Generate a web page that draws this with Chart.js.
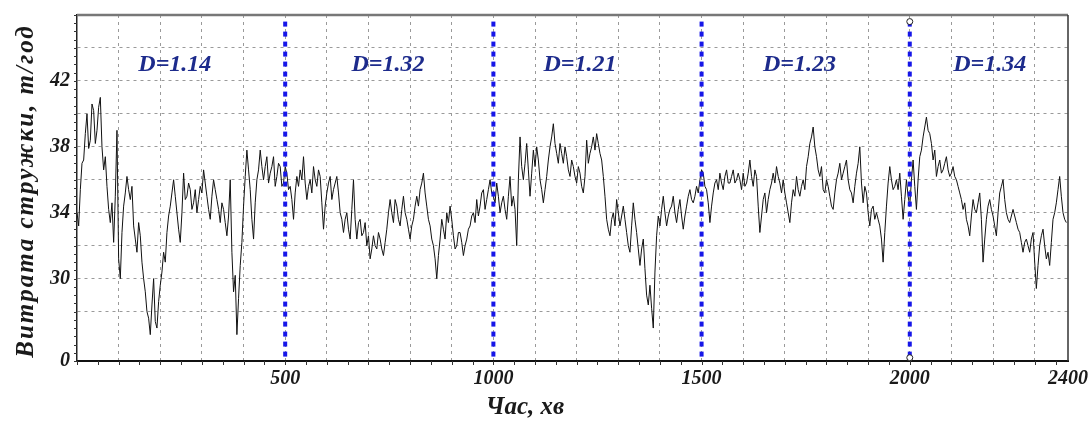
<!DOCTYPE html>
<html lang="uk">
<head>
    <meta charset="UTF-8">
    <title>Витрата стружки</title>
    <script src="https://cdn.jsdelivr.net/npm/chart.js"></script>
    <style>
        html, body { margin: 0; padding: 0; background: #fff; }
        #chipChart { display: block; }
    </style>
</head>
<body>
<canvas id="chipChart" width="1089" height="425"></canvas>
<script>
    // one reading every 4 minutes, t/год
    const stepMinutes = 4;
    const chipRate = [
        // 0 - 796 min
        34.0, 33.2, 35.4, 37.0, 37.2, 38.8, 40.0, 37.9, 38.4, 40.6, 40.2, 38.2, 39.0, 40.4, 41.0, 38.0, 36.6, 37.4, 35.6, 34.2,
        33.4, 34.6, 32.2, 35.0, 39.0, 31.2, 30.0, 32.8, 34.4, 35.2, 36.2, 35.4, 34.8, 35.6, 33.2, 32.4, 31.6, 33.4, 32.6, 31.0,
        30.0, 29.2, 28.0, 27.6, 26.6, 28.4, 30.0, 27.4, 27.0, 28.6, 29.6, 30.4, 31.6, 31.0, 32.8, 33.8, 34.4, 35.2, 36.0, 35.0,
        34.0, 33.0, 32.2, 34.0, 36.4, 34.8, 35.0, 35.8, 35.4, 34.2, 34.6, 35.4, 34.0, 34.8, 35.6, 35.2, 36.6, 35.8, 35.0, 34.2,
        33.6, 35.0, 36.0, 35.4, 34.8, 34.2, 33.4, 34.6, 34.2, 33.4, 32.6, 33.8, 36.0, 31.6, 29.2, 30.2, 26.6, 28.8, 30.8, 32.2,
        34.4, 36.2, 37.8, 36.6, 35.4, 33.6, 32.4, 34.6, 36.0, 36.6, 37.8, 36.8, 36.0, 36.8, 37.4, 35.8, 36.4, 36.8, 37.4, 35.6,
        36.2, 37.0, 36.8, 35.6, 35.8, 36.8, 36.4, 35.4, 35.6, 34.8, 33.6, 35.2, 36.2, 35.6, 36.6, 36.0, 37.4, 35.8, 34.8, 35.6,
        36.0, 35.2, 36.8, 36.0, 35.6, 36.6, 36.2, 34.6, 33.0, 34.4, 35.2, 35.8, 36.2, 34.8, 35.4, 35.8, 36.2, 35.2, 34.0, 33.6,
        32.8, 33.6, 34.0, 33.0, 32.4, 34.2, 36.0, 33.6, 32.4, 33.4, 33.6, 32.6, 32.8, 33.4, 32.0, 32.6, 31.2, 31.8, 32.6, 32.0,
        31.8, 32.8, 32.4, 31.8, 31.4, 32.2, 33.0, 34.0, 34.8, 34.0, 33.4, 34.8, 34.4, 33.6, 33.2, 34.2, 35.0, 34.0, 33.6, 33.0,
        // 800 - 1588 min
        32.4, 33.2, 33.6, 34.4, 35.0, 34.4, 35.4, 35.8, 36.4, 35.2, 34.4, 33.6, 33.2, 32.4, 32.0, 31.2, 30.0, 31.4, 32.4, 33.6,
        33.0, 32.4, 34.0, 33.4, 34.4, 33.6, 32.6, 31.8, 32.0, 32.8, 32.8, 32.2, 31.4, 32.0, 32.4, 33.0, 33.2, 33.8, 34.0, 33.4,
        34.8, 33.8, 34.4, 35.2, 35.4, 34.2, 34.8, 35.4, 36.0, 35.2, 35.0, 34.6, 35.8, 35.0, 34.0, 34.6, 35.0, 34.2, 33.6, 35.0,
        36.2, 34.4, 35.0, 34.2, 32.0, 36.0, 38.6, 36.8, 36.0, 37.0, 38.2, 36.6, 35.0, 36.4, 37.8, 36.8, 38.0, 37.2, 36.0, 35.4,
        34.6, 35.4, 36.2, 37.2, 38.0, 38.6, 39.4, 38.2, 37.6, 37.0, 38.2, 37.6, 37.0, 38.0, 37.4, 36.6, 36.2, 37.2, 36.8, 36.2,
        35.8, 36.8, 36.4, 35.6, 35.2, 36.2, 38.4, 37.0, 37.6, 38.0, 38.6, 37.8, 38.8, 38.2, 37.6, 37.2, 36.2, 35.0, 33.6, 33.0,
        32.6, 33.6, 34.0, 33.2, 34.8, 34.0, 33.2, 33.8, 34.4, 33.6, 32.8, 32.0, 31.6, 33.2, 34.6, 33.6, 32.8, 31.8, 30.8, 31.8,
        32.4, 30.6, 29.0, 28.4, 29.6, 28.2, 27.0, 30.4, 32.6, 33.8, 33.2, 34.2, 35.0, 34.0, 33.2, 33.8, 34.2, 34.4, 35.0, 34.0,
        33.4, 34.2, 34.8, 33.8, 33.0, 33.8, 34.4, 35.0, 35.4, 34.8, 34.6, 35.0, 35.6, 35.2, 36.0, 36.6, 36.4, 35.6, 35.4, 34.6,
        33.4, 34.4, 35.2, 35.8, 36.0, 35.4, 36.4, 35.8, 35.4, 36.2, 36.6, 35.8, 35.8, 36.2, 36.6, 35.8, 36.0, 36.4,
        // 1592 - 2376 min
        36.0, 35.4, 36.4, 35.6, 35.8, 36.4, 37.2, 36.2, 35.6, 36.6, 36.2, 34.4, 32.8, 33.8, 34.8, 35.2, 34.0, 34.8, 35.4, 35.8,
        36.4, 35.8, 36.8, 36.2, 35.8, 35.2, 36.0, 35.2, 34.6, 34.0, 33.4, 34.6, 35.4, 35.0, 36.2, 35.4, 35.0, 35.6, 36.0, 35.4,
        36.8, 37.4, 38.2, 38.6, 39.2, 38.0, 37.4, 36.6, 36.2, 36.8, 35.4, 35.2, 36.0, 35.6, 35.0, 34.4, 34.2, 35.2, 36.0, 36.4,
        37.0, 36.0, 36.4, 36.8, 37.2, 36.0, 35.4, 35.2, 34.6, 35.6, 36.4, 37.0, 38.0, 35.8, 34.6, 35.6, 35.2, 34.0, 33.2, 34.2,
        34.4, 33.6, 34.0, 33.6, 33.2, 32.4, 31.0, 32.8, 34.4, 35.8, 36.8, 36.0, 35.4, 35.6, 36.0, 35.4, 36.4, 35.0, 33.6, 34.8,
        36.0, 35.0, 34.4, 36.0, 37.2, 35.6, 34.2, 36.0, 37.4, 37.8, 38.6, 39.2, 39.8, 39.0, 38.8, 38.2, 37.2, 37.8, 36.2, 36.8,
        37.2, 36.4, 36.6, 37.0, 37.4, 36.6, 36.2, 36.4, 36.8, 36.2, 36.0, 35.6, 35.2, 34.8, 34.2, 34.6, 33.6, 33.2, 32.6, 33.8,
        34.8, 34.2, 34.0, 34.6, 35.2, 33.6, 31.0, 32.4, 33.6, 34.4, 34.8, 34.2, 33.8, 33.2, 32.6, 34.0, 35.2, 35.6, 36.0, 34.8,
        34.0, 33.6, 33.4, 33.8, 34.2, 33.8, 33.4, 33.0, 32.8, 32.2, 31.6, 32.2, 32.4, 32.0, 31.6, 32.4, 32.8, 31.0, 29.4, 30.8,
        32.0, 32.6, 33.0, 32.0, 31.2, 31.6, 30.8, 32.2, 33.6, 34.0, 34.6, 35.4, 36.2, 35.0, 34.0, 33.6, 33.4
    ];

    const boundaries = [500, 1000, 1500, 2000];
    const segmentLabels = ['D=1.14', 'D=1.32', 'D=1.21', 'D=1.23', 'D=1.34'];
    const segmentLabelAt = [235, 747, 1208, 1735, 2192];

    const xTickValues = [500, 1000, 1500, 2000, 2380];
    const xTickLabels = ['500', '1000', '1500', '2000', '2400'];
    const yTickValues = [25, 30, 34, 38, 42];
    const yTickLabels = ['0', '30', '34', '38', '42'];

    const X_MAX = 2380, Y_MIN = 25, Y_MAX = 46;
    const serif = '"Liberation Serif", "DejaVu Serif", serif';

    const points = chipRate.map((v, i) => ({ x: i * stepMinutes, y: v }));

    const datasets = [{
        data: points,
        borderColor: '#111',
        borderWidth: 1,
        pointRadius: 0,
        order: 1
    }];
    boundaries.forEach((b, i) => {
        datasets.push({
            data: [{ x: b, y: 45.6 }, { x: b, y: Y_MIN + 0.2 }],
            borderColor: '#1616e8',
            borderWidth: 4,
            borderDash: [5, 5],
            pointRadius: i === boundaries.length - 1 ? 3 : 0,
            pointBackgroundColor: '#fff',
            pointBorderColor: '#222',
            pointBorderWidth: 1,
            order: 0
        });
    });

    const tickFont = { family: serif, size: 20, style: 'italic', weight: 'bold' };

    // frame, minor ticks, segment labels and axis captions
    const overlay = {
        id: 'overlay',
        afterDraw(chart) {
            const { ctx, chartArea: a, scales: { x, y } } = chart;
            const line = (x1, y1, x2, y2) => {
                ctx.beginPath(); ctx.moveTo(x1, y1); ctx.lineTo(x2, y2); ctx.stroke();
            };
            ctx.save();
            ctx.strokeStyle = '#777';
            ctx.lineWidth = 2.5;
            line(a.left, a.top, a.right, a.top);
            ctx.strokeStyle = '#333';
            ctx.lineWidth = 1.5;
            line(a.right, a.top, a.right, a.bottom);

            ctx.strokeStyle = '#333';
            ctx.lineWidth = 1;
            for (let v = Y_MIN; v <= Y_MAX; v += 0.5) {
                const py = Math.round(y.getPixelForValue(v)) + 0.5;
                line(a.left - 3, py, a.left, py);
            }
            for (let m = 0; m <= X_MAX; m += 50) {
                const px = Math.round(x.getPixelForValue(m)) + 0.5;
                line(px, a.bottom, px, a.bottom + 4);
            }

            ctx.fillStyle = '#1d2b8c';
            ctx.font = 'italic bold 24px ' + serif;
            ctx.textAlign = 'center';
            ctx.textBaseline = 'middle';
            segmentLabels.forEach((t, i) => {
                ctx.fillText(t, x.getPixelForValue(segmentLabelAt[i]), y.getPixelForValue(43));
            });

            ctx.fillStyle = '#1a1a1a';
            ctx.font = 'italic bold 25px ' + serif;
            ctx.fillText('Час, хв', 525, 408);

            ctx.translate(27, 191);
            ctx.rotate(-Math.PI / 2);
            ctx.letterSpacing = '2px';
            ctx.fillText('Витрата стружки, т/год', 0, 0);
            ctx.restore();
        }
    };

    new Chart(document.getElementById('chipChart'), {
        type: 'line',
        data: { datasets: datasets },
        options: {
            responsive: false,
            animation: false,
            events: [],
            layout: { padding: { left: 0, top: 15, right: 21, bottom: 0 } },
            plugins: { legend: { display: false }, tooltip: { enabled: false } },
            scales: {
                x: {
                    type: 'linear',
                    min: 0,
                    max: X_MAX,
                    afterBuildTicks(scale) {
                        const t = [];
                        for (let m = 0; m < X_MAX; m += 100) t.push({ value: m });
                        t.push({ value: X_MAX });
                        scale.ticks = t;
                    },
                    afterFit(scale) {
                        scale.height = 64;
                        scale.paddingLeft = 0;
                        scale.paddingRight = 0;
                    },
                    ticks: {
                        autoSkip: false,
                        maxRotation: 0,
                        padding: 6,
                        color: '#1a1a1a',
                        font: tickFont,
                        callback: v => {
                            const k = xTickValues.indexOf(v);
                            return k >= 0 ? xTickLabels[k] : '';
                        }
                    },
                    grid: {
                        drawTicks: false,
                        lineWidth: 1,
                        color: c => (c.tick && (c.tick.value === 0 || c.tick.value === X_MAX)) ? 'rgba(0,0,0,0)' : '#9a9a9a'
                    },
                    border: { display: true, color: '#111', width: 2, dash: [3, 4] }
                },
                y: {
                    min: Y_MIN,
                    max: Y_MAX,
                    afterBuildTicks(scale) {
                        const t = [{ value: Y_MIN }];
                        for (let v = 28; v <= 44; v += 2) t.push({ value: v });
                        t.push({ value: Y_MAX });
                        scale.ticks = t;
                    },
                    afterFit(scale) {
                        scale.width = 77;
                        scale.paddingTop = 0;
                        scale.paddingBottom = 0;
                    },
                    ticks: {
                        autoSkip: false,
                        padding: 7,
                        color: '#1a1a1a',
                        font: tickFont,
                        callback: v => {
                            const k = yTickValues.indexOf(v);
                            return k >= 0 ? yTickLabels[k] : '';
                        }
                    },
                    grid: {
                        drawTicks: false,
                        lineWidth: 1,
                        color: c => (c.tick && (c.tick.value === Y_MIN || c.tick.value === Y_MAX)) ? 'rgba(0,0,0,0)' : '#9a9a9a'
                    },
                    border: { display: true, color: '#222', width: 1.5, dash: [3, 4] }
                }
            }
        },
        plugins: [overlay]
    });
</script>
</body>
</html>
